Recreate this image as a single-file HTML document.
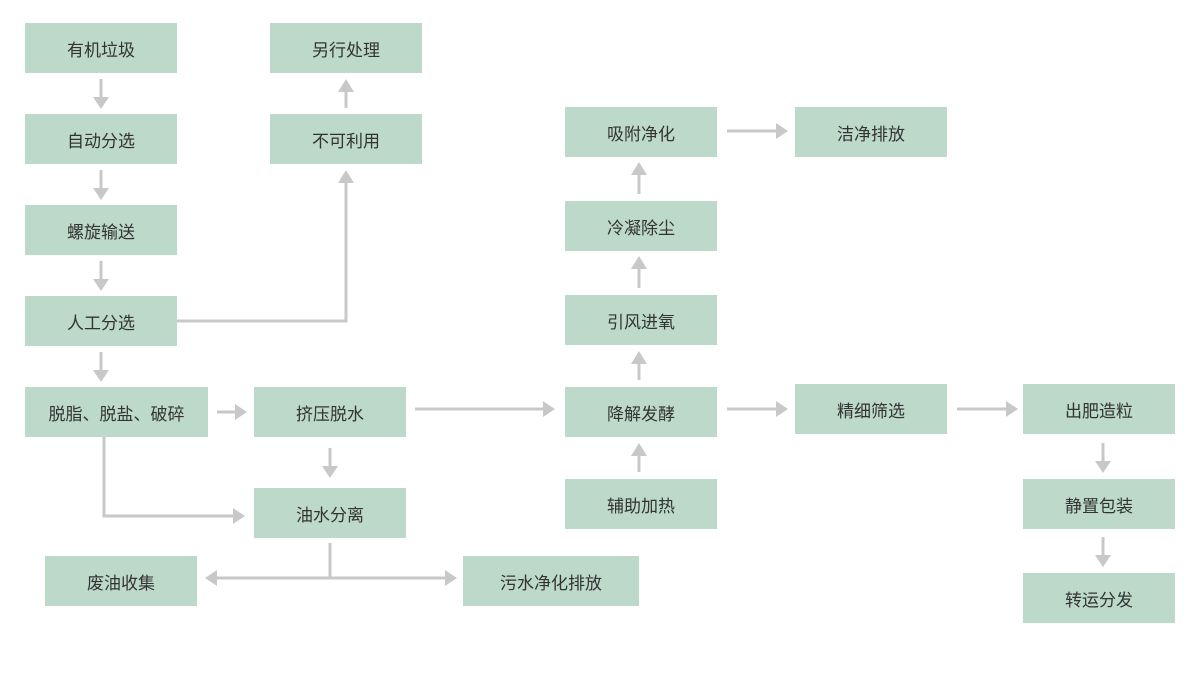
<!DOCTYPE html>
<html><head><meta charset="utf-8"><style>
html,body{margin:0;padding:0;background:#fff;}
.wrap{position:relative;width:1200px;height:680px;overflow:hidden;}
.b{position:absolute;background:#bcd9c9;color:#333;font-family:"Liberation Sans","Noto Sans CJK SC",sans-serif;font-size:17px;display:flex;align-items:center;justify-content:center;height:50px;}
svg{position:absolute;left:0;top:0;}
</style></head><body><div class="wrap">
<svg width="1200" height="680" viewBox="0 0 1200 680">
<g stroke="#c8c8c8" stroke-width="3" fill="none">
<line x1="101" y1="79" x2="101" y2="98"/>
<line x1="101" y1="170" x2="101" y2="189"/>
<line x1="101" y1="261" x2="101" y2="280"/>
<line x1="101" y1="352" x2="101" y2="371"/>
<polyline points="177,321 346,321 346,182"/>
<line x1="346" y1="108" x2="346" y2="91"/>
<line x1="217" y1="412" x2="236" y2="412"/>
<polyline points="104,437 104,516 234,516"/>
<line x1="330" y1="448" x2="330" y2="467"/>
<line x1="415" y1="409" x2="544" y2="409"/>
<line x1="330" y1="543" x2="330" y2="578"/>
<line x1="216" y1="578" x2="446" y2="578"/>
<line x1="639" y1="472" x2="639" y2="455"/>
<line x1="639" y1="380" x2="639" y2="363"/>
<line x1="639" y1="288" x2="639" y2="268"/>
<line x1="639" y1="194" x2="639" y2="174"/>
<line x1="727" y1="131" x2="777" y2="131"/>
<line x1="727" y1="409" x2="777" y2="409"/>
<line x1="957" y1="409" x2="1007" y2="409"/>
<line x1="1103" y1="443" x2="1103" y2="462"/>
<line x1="1103" y1="537" x2="1103" y2="556"/>
</g>
<g fill="#c8c8c8">
<polygon points="93,97 109,97 101,109"/>
<polygon points="93,188 109,188 101,200"/>
<polygon points="93,279 109,279 101,291"/>
<polygon points="93,370 109,370 101,382"/>
<polygon points="338,183 354,183 346,170"/>
<polygon points="338,92 354,92 346,79"/>
<polygon points="235,404 235,420 247,412"/>
<polygon points="233,508 233,524 245,516"/>
<polygon points="322,466 338,466 330,478"/>
<polygon points="543,401 543,417 555,409"/>
<polygon points="217,570 217,586 205,578"/>
<polygon points="445,570 445,586 457,578"/>
<polygon points="631,456 647,456 639,443"/>
<polygon points="631,364 647,364 639,351"/>
<polygon points="631,269 647,269 639,256"/>
<polygon points="631,175 647,175 639,162"/>
<polygon points="776,123 776,139 788,131"/>
<polygon points="776,401 776,417 788,409"/>
<polygon points="1006,401 1006,417 1018,409"/>
<polygon points="1095,461 1111,461 1103,473"/>
<polygon points="1095,555 1111,555 1103,567"/>
</g>
</svg>
<div class="b" style="left:25px;top:23px;width:152px">有机垃圾</div>
<div class="b" style="left:25px;top:114px;width:152px">自动分选</div>
<div class="b" style="left:25px;top:205px;width:152px">螺旋输送</div>
<div class="b" style="left:25px;top:296px;width:152px">人工分选</div>
<div class="b" style="left:25px;top:387px;width:183px">脱脂、脱盐、破碎</div>
<div class="b" style="left:254px;top:387px;width:152px">挤压脱水</div>
<div class="b" style="left:254px;top:488px;width:152px">油水分离</div>
<div class="b" style="left:45px;top:556px;width:152px">废油收集</div>
<div class="b" style="left:463px;top:556px;width:176px">污水净化排放</div>
<div class="b" style="left:270px;top:23px;width:152px">另行处理</div>
<div class="b" style="left:270px;top:114px;width:152px">不可利用</div>
<div class="b" style="left:565px;top:107px;width:152px">吸附净化</div>
<div class="b" style="left:795px;top:107px;width:152px">洁净排放</div>
<div class="b" style="left:565px;top:201px;width:152px">冷凝除尘</div>
<div class="b" style="left:565px;top:295px;width:152px">引风进氧</div>
<div class="b" style="left:565px;top:387px;width:152px">降解发酵</div>
<div class="b" style="left:565px;top:479px;width:152px">辅助加热</div>
<div class="b" style="left:795px;top:384px;width:152px">精细筛选</div>
<div class="b" style="left:1023px;top:384px;width:152px">出肥造粒</div>
<div class="b" style="left:1023px;top:479px;width:152px">静置包装</div>
<div class="b" style="left:1023px;top:573px;width:152px">转运分发</div>
</div></body></html>
